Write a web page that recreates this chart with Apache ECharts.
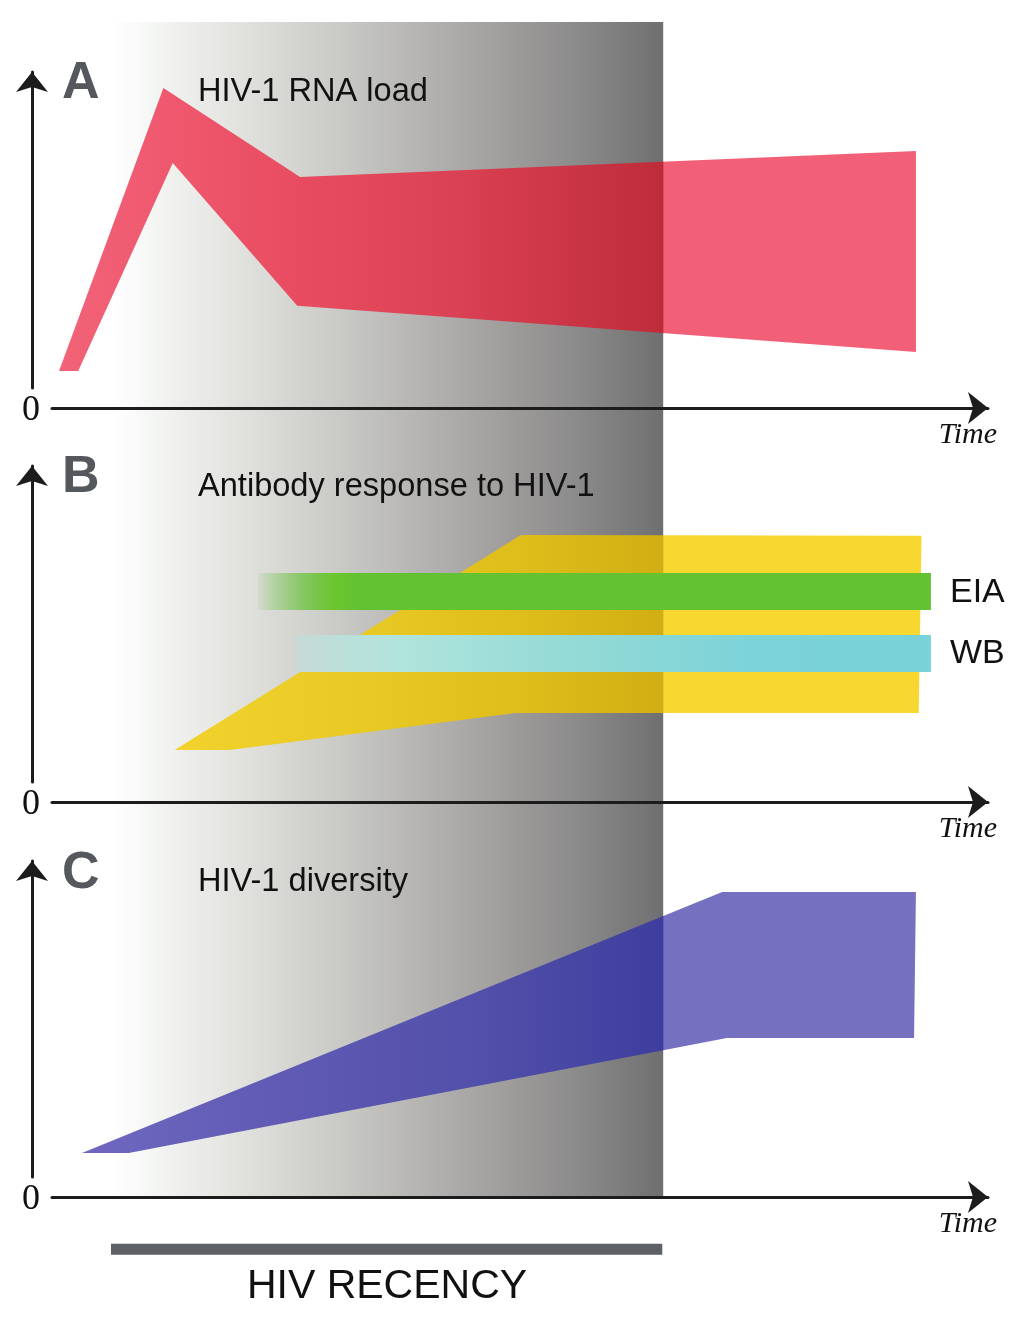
<!DOCTYPE html>
<html><head><meta charset="utf-8">
<style>html,body{margin:0;padding:0;background:#fff}#c{width:1024px;height:1327px}</style>
<script src="https://cdn.jsdelivr.net/npm/echarts@6/dist/echarts.min.js"></script>
</head><body><div id="c"></div><script>
// ---- data (time on x: 0..100, level on y: 0..100) ----
const recencyBand = [6.2, 65.3];
const recencyBandY = [4.8, 100];
const recencyBar = [6.3, 65.2];
const recencyBarY = [0.1, 1.0];
const rnaUpper = [[0.75, 5.4], [11.9, 94.9], [26.5, 66.8], [92.3, 75.0]];
const rnaLower = [[2.8, 5.4], [12.9, 71.2], [26.2, 26.0], [92.3, 11.4]];
const antibodyUpper = [[13.1, 10.1], [50.1, 78.2], [92.9, 77.9]];
const antibodyLower = [[19.0, 10.1], [49.5, 21.8], [92.6, 21.8]];
const eiaBar = [22.0, 93.9, 54.4, 66.1];
const wbBar = [26.1, 93.9, 34.8, 46.5];
const diversityUpper = [[3.2, 7.6], [71.6, 90.2], [92.3, 90.2]];
const diversityLower = [[8.2, 7.6], [72.1, 44.0], [92.1, 44.0]];
const panelLetters = ['A', 'B', 'C'];
const panelTitles = ['HIV-1 RNA load', 'Antibody response to HIV-1', 'HIV-1 diversity'];
const barLabels = ['EIA', 'WB'];
const axisName = 'Time';
const zeroLabel = '0';
const recencyLabel = 'HIV RECENCY';

const chart = echarts.init(document.getElementById('c'), null, {renderer: 'canvas'});
const SANS = '"Liberation Sans", Arial, sans-serif';
const SERIF = '"Liberation Serif", "Times New Roman", serif';

function shapeStops(inside, outside) {
  const e = recencyBand[1] / 100;
  const s = inside.map(p => ({offset: p[0] / 100, color: p[1]}));
  s.push({offset: e + 0.0005, color: outside});
  s.push({offset: 1, color: outside});
  return s;
}
function polyRender(upper, lower, stops) {
  return function (params, api) {
    const pts = upper.concat(lower.slice().reverse()).map(p => api.coord(p));
    const a = api.coord([0, 0]), b = api.coord([100, 0]);
    return {type: 'polygon', shape: {points: pts},
      style: {fill: new echarts.graphic.LinearGradient(a[0], 0, b[0], 0, stops, true)}};
  };
}
function barRender(bar, stops) {
  return function (params, api) {
    const p0 = api.coord([bar[0], bar[3]]), p1 = api.coord([bar[1], bar[2]]);
    const a = api.coord([0, 0]), b = api.coord([100, 0]);
    return {type: 'rect', shape: {x: p0[0], y: p0[1], width: p1[0] - p0[0], height: p1[1] - p0[1]},
      style: {fill: stops ? new echarts.graphic.LinearGradient(a[0], 0, b[0], 0, stops, true) : '#5d6064'}};
  };
}

const redStops = shapeStops([[0, '#f26479'], [15, '#ee566c'], [26, '#e84c60'], [42, '#dc4255'], [65.3, '#be2c3a']], '#f26077');
const yellowStops = shapeStops([[13, '#f2d22c'], [35, '#e8c822'], [50, '#dfbd1a'], [65.3, '#d2ae14']], '#f8d830');
const blueStops = shapeStops([[3, '#7068c0'], [25, '#605ab4'], [45, '#5250aa'], [65.3, '#3e3e9e']], '#7570c0');
const greenStops = [[22.0, 'rgba(98,194,50,0.08)'], [24, 'rgba(98,194,50,0.35)'], [27, 'rgba(98,194,50,0.7)'], [30, '#6cc62e'], [33, '#62c232'], [100, '#62c232']].map(p => ({offset: p[0] / 100, color: p[1]}));
const cyanStops = [[26.1, '#c6dad6'], [37, '#b0e4dc'], [55, '#94dad6'], [75, '#7cd3d8'], [100, '#76d2d8']].map(p => ({offset: p[0] / 100, color: p[1]}));

const grids = [
  {left: 52, width: 936, top: 22, height: 1234},
  {left: 52, width: 936, top: 72, height: 316},
  {left: 52, width: 936, top: 466, height: 316},
  {left: 52, width: 936, top: 861, height: 316}
];
function axLine() {
  return {show: true, onZero: false, symbol: ['none', 'arrow'], symbolSize: [24, 20], lineStyle: {color: '#1c1c1c', width: 3}};
}
const xAxes = grids.map((g, i) => ({
  type: 'value', gridIndex: i, position: 'bottom', min: 0, max: 100, show: i > 0, offset: 20, z: 10,
  axisLine: axLine(), axisTick: {show: false}, axisLabel: {show: false}, splitLine: {show: false}
}));
const yAxes = grids.map((g, i) => ({
  type: 'value', gridIndex: i, position: 'left', min: 0, max: 100, show: i > 0, offset: 20, z: 10,
  axisLine: axLine(), axisTick: {show: false}, axisLabel: {show: false}, splitLine: {show: false}
}));

function cs(idx, render, z) {
  return {type: 'custom', xAxisIndex: idx, yAxisIndex: idx, data: [0], renderItem: render, silent: true, z: z || 2, animation: false};
}

const series = [
  cs(0, function (params, api) {
    const p0 = api.coord([recencyBand[0], recencyBandY[1]]), p1 = api.coord([recencyBand[1], recencyBandY[0]]);
    return {type: 'rect', shape: {x: p0[0], y: p0[1], width: p1[0] - p0[0], height: p1[1] - p0[1]},
      style: {fill: new echarts.graphic.LinearGradient(0, 0, 1, 0, [
        {offset: 0, color: '#ffffff'}, {offset: 0.08, color: '#f4f6f4'}, {offset: 0.2, color: '#e6e6e3'},
        {offset: 0.41, color: '#cacac7'}, {offset: 0.63, color: '#acaaa8'}, {offset: 0.85, color: '#8b8a8a'},
        {offset: 1, color: '#6f6f71'}])}};
  }, 1),
  cs(0, barRender([recencyBar[0], recencyBar[1], recencyBarY[0], recencyBarY[1]], null), 2),
  cs(1, polyRender(rnaUpper, rnaLower, redStops), 3),
  cs(2, polyRender(antibodyUpper, antibodyLower, yellowStops), 3),
  cs(2, barRender(eiaBar, greenStops), 4),
  cs(2, barRender(wbBar, cyanStops), 4),
  cs(3, polyRender(diversityUpper, diversityLower, blueStops), 3)
];

const axisY = [408, 802, 1197];
const letterY = [84, 478, 874];
const titleY = [92, 487, 882];
const graphic = [];
for (let i = 0; i < 3; i++) {
  graphic.push({type: 'text', x: 62, y: letterY[i], z: 100, style: {text: panelLetters[i], font: 'bold 52px ' + SANS, fill: '#55585c', verticalAlign: 'middle'}});
  graphic.push({type: 'text', x: 198, y: titleY[i], z: 100, style: {text: panelTitles[i], font: '32.6px ' + SANS, fill: '#111', verticalAlign: 'middle'}});
  graphic.push({type: 'text', x: 31, y: axisY[i] + 3, z: 100, style: {text: zeroLabel, font: '36px ' + SERIF, fill: '#111', align: 'center', verticalAlign: 'middle'}});
  graphic.push({type: 'text', x: 997, y: axisY[i] + 27, z: 100, style: {text: axisName, font: 'italic 30px ' + SERIF, fill: '#111', align: 'right', verticalAlign: 'middle'}});
}
graphic.push({type: 'text', x: 950, y: 593, z: 100, style: {text: barLabels[0], font: '34px ' + SANS, fill: '#111', verticalAlign: 'middle'}});
graphic.push({type: 'text', x: 950, y: 654, z: 100, style: {text: barLabels[1], font: '34px ' + SANS, fill: '#111', verticalAlign: 'middle'}});
graphic.push({type: 'text', x: 387, y: 1287, z: 100, style: {text: recencyLabel, font: '41px ' + SANS, fill: '#111', align: 'center', verticalAlign: 'middle'}});

chart.setOption({
  animation: false,
  backgroundColor: '#ffffff',
  grid: grids,
  xAxis: xAxes,
  yAxis: yAxes,
  series: series,
  graphic: graphic
});
</script></body></html>
